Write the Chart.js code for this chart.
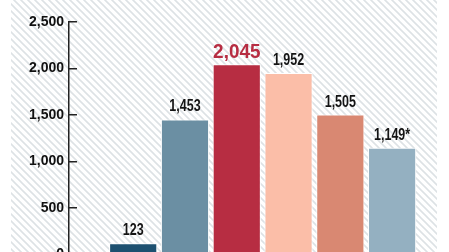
<!DOCTYPE html>
<html>
<head>
<meta charset="utf-8">
<script src="https://cdn.jsdelivr.net/npm/chart.js@4.4.1/dist/chart.umd.min.js"></script>
<style>
  html, body { margin: 0; padding: 0; background: #fff; overflow: hidden; }
  #wrap { position: relative; width: 449px; height: 276px; }
</style>
</head>
<body>
<div id="wrap"><canvas id="chart"></canvas></div>
<script>
// bar slots along the x scale (the category names are cropped off in the picture)
const slots = [1, 2, 3, 4, 5, 6];
const values = [123, 1453, 2045, 1952, 1505, 1149];
const notes = ["", "", "", "", "", "*"];
const barColors = ["#1d5070", "#6b8fa3", "#b72d42", "#fbbea8", "#d98872", "#94b0c1"];
const yTicks = [0, 500, 1000, 1500, 2000, 2500];
const highlightIndex = 2;

// Diagonal hatched backdrop
const hatchBackground = {
    id: "hatchBackground",
    beforeDraw(chart) {
        const ctx = chart.ctx;
        const tile = document.createElement("canvas");
        tile.width = 7;
        tile.height = 7;
        const t = tile.getContext("2d");
        t.strokeStyle = "#dde2e5";
        t.lineWidth = 1.6;
        t.beginPath();
        t.moveTo(-1, -1); t.lineTo(8, 8);
        t.moveTo(-1, 6); t.lineTo(1, 8);
        t.moveTo(6, -1); t.lineTo(8, 1);
        t.stroke();
        ctx.save();
        ctx.fillStyle = ctx.createPattern(tile, "repeat");
        ctx.fillRect(11, 0, 426, chart.height);
        ctx.restore();
    }
};

// Value labels above each bar (narrowed to mimic the condensed face)
const valueLabels = {
    id: "valueLabels",
    afterDatasetsDraw(chart) {
        const ctx = chart.ctx;
        const meta = chart.getDatasetMeta(0);
        meta.data.forEach((bar, i) => {
            const text = values[i].toLocaleString("en-US") + notes[i];
            const big = i === highlightIndex;
            ctx.save();
            ctx.textAlign = "center";
            ctx.textBaseline = "alphabetic";
            ctx.translate(bar.x, bar.y - (big ? 6 : 8));
            ctx.scale(big ? 0.9 : 0.78, 1);
            ctx.fillStyle = big ? "#b72d42" : "#141414";
            ctx.font = (big ? "bold 21px" : "bold 16px") + " 'Liberation Sans', sans-serif";
            ctx.fillText(text, 0, 0);
            ctx.restore();
        });
    }
};

new Chart(document.getElementById("chart"), {
    type: "bar",
    data: {
        datasets: [{
            data: slots.map((s, i) => ({ x: s, y: values[i] })),
            backgroundColor: barColors,
            borderColor: "#ffffff",
            borderWidth: 1,
            categoryPercentage: 1,
            barPercentage: 0.93,
        }],
    },
    options: {
        responsive: true,
        maintainAspectRatio: false,
        animation: false,
        layout: { padding: { top: 22, right: 31, bottom: 12, left: 0 } },
        plugins: {
            legend: { display: false },
            tooltip: { enabled: false },
        },
        scales: {
            x: {
                type: "linear",
                offset: false,
                min: -0.24,
                max: 6.5,
                display: false,
            },
            y: {
                min: 0,
                max: 2500,
                afterBuildTicks(scale) {
                    scale.ticks = yTicks.map((v) => ({ value: v }));
                },
                afterFit(scale) {
                    scale.width = 69;
                },
                border: { display: true, color: "#222", width: 1.5 },
                grid: {
                    drawOnChartArea: false,
                    drawTicks: true,
                    tickLength: -8,
                    color: "#222",
                    lineWidth: 1.5,
                },
                ticks: {
                    padding: 13,
                    color: "#111",
                    font: { family: "'Liberation Sans', sans-serif", size: 14, weight: "bold" },
                    callback: (v) => v.toLocaleString("en-US"),
                },
            },
        },
    },
    plugins: [hatchBackground, valueLabels],
});
</script>
</body>
</html>
